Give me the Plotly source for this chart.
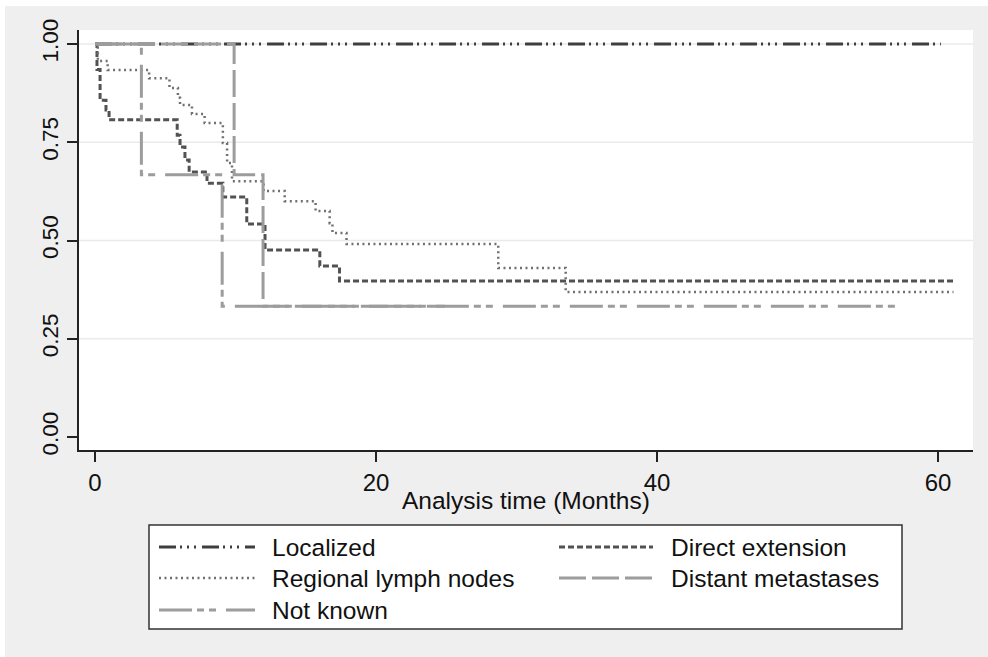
import plotly.graph_objects as go

# ---- data ----
localized_t = [0, 60.2]
localized_s = [1.0, 1.0]

direct_t = [0, 0.14, 0.36, 0.78, 1.0, 5.85, 6.05, 6.4, 6.7, 7.97, 9.1, 10.8, 12.1, 16.0, 17.4, 61.1]
direct_s = [1.0, 0.935, 0.857, 0.832, 0.807, 0.768, 0.738, 0.705, 0.674, 0.646, 0.611, 0.542, 0.476, 0.435, 0.397, 0.397]

regional_t = [0, 0.2, 0.9, 3.85, 5.3, 5.9, 6.05, 6.9, 7.8, 9.1, 9.4, 9.75, 12.0, 13.5, 15.7, 16.7, 16.9, 17.9, 28.7, 33.5, 61.1]
regional_s = [1.0, 0.957, 0.934, 0.913, 0.888, 0.863, 0.845, 0.822, 0.799, 0.748, 0.697, 0.651, 0.626, 0.600, 0.575, 0.544, 0.519, 0.491, 0.430, 0.369, 0.369]

distant_t = [0, 9.9, 11.96, 24.9]
distant_s = [1.0, 0.667, 0.333, 0.333]

notknown_t = [0, 3.3, 9.05, 57.6]
notknown_s = [1.0, 0.667, 0.333, 0.333]

series_names = ["Localized", "Direct extension", "Regional lymph nodes", "Distant metastases", "Not known"]
x_ticks = [0, 20, 40, 60]
y_ticks = [0.0, 0.25, 0.5, 0.75, 1.0]
y_tick_text = ["0.00", "0.25", "0.50", "0.75", "1.00"]
grid_vals = [0.25, 0.5, 0.75, 1.0]
x_title = "Analysis time (Months)"

# ---- styles ----
styles = [
    dict(color="#3e3e3e", width=3, dash="17px,4px,2px,5px,2px,5px,2px,6px"),
    dict(color="#525252", width=3, dash="6px,3px"),
    dict(color="#707070", width=2.5, dash="2px,3.5px"),
    dict(color="#9c9c9c", width=3, dash="27px,6px"),
    dict(color="#9c9c9c", width=3, dash="33px,5px,7px,5px,7px,10px"),
]

W, H = 988, 657
L, R, T, B = 79, 15, 30, 207
PW, PH = W - L - R, H - T - B

def px_x(p):
    return (p - L) / PW

def px_y(p):
    return (H - B - p) / PH

FONT = "Liberation Sans, Arial, Helvetica, sans-serif"

fig = go.Figure()
data = [(localized_t, localized_s), (direct_t, direct_s), (regional_t, regional_s),
        (distant_t, distant_s), (notknown_t, notknown_s)]
for (t, s), name, st in zip(data, series_names, styles):
    fig.add_trace(go.Scatter(x=t, y=s, mode="lines", name=name, line_shape="hv",
                             line=st, showlegend=False, hoverinfo="skip"))

shapes = []
# gridlines
for g in grid_vals:
    shapes.append(dict(type="line", xref="paper", yref="y", x0=0, x1=1, y0=g, y1=g,
                       line=dict(color="#eaeaea", width=1.5), layer="below"))
# white border strips of the outer frame
shapes.append(dict(type="rect", xref="paper", yref="paper", x0=px_x(0), x1=px_x(W + 5),
                   y0=px_y(6), y1=px_y(-5), fillcolor="white", line=dict(width=0), layer="below"))
shapes.append(dict(type="rect", xref="paper", yref="paper", x0=px_x(-5), x1=px_x(5),
                   y0=px_y(H + 5), y1=px_y(-5), fillcolor="white", line=dict(width=0), layer="below"))
# legend box
shapes.append(dict(type="rect", xref="paper", yref="paper", x0=px_x(149), x1=px_x(902),
                   y0=px_y(629), y1=px_y(525), fillcolor="white",
                   line=dict(color="#333333", width=1.5), layer="above"))

annotations = []
legend_pos = [(159, 255, 270, 547), (559, 653, 669, 547), (159, 255, 270, 578),
              (559, 653, 669, 578), (159, 255, 270, 610)]
for (sx0, sx1, tx, ty), name, st in zip(legend_pos, series_names, styles):
    shapes.append(dict(type="line", xref="paper", yref="paper", x0=px_x(sx0), x1=px_x(sx1),
                       y0=px_y(ty), y1=px_y(ty), line=st, layer="above"))
    annotations.append(dict(xref="paper", yref="paper", x=px_x(tx), y=px_y(ty), text=name,
                            showarrow=False, xanchor="left", yanchor="middle",
                            font=dict(family=FONT, size=24.5, color="#111111")))

# x-axis title
annotations.append(dict(xref="paper", yref="paper", x=0.5, y=px_y(500), text=x_title,
                        showarrow=False, xanchor="center", yanchor="middle",
                        font=dict(family=FONT, size=24.5, color="#111111")))

fig.update_layout(
    width=W, height=H, autosize=False,
    margin=dict(l=L, r=R, t=T, b=B),
    paper_bgcolor="#efefef", plot_bgcolor="white",
    showlegend=False,
    shapes=shapes, annotations=annotations,
    font=dict(family=FONT, color="#111111"),
)
fig.update_xaxes(
    range=[-1.14, 62.49], tickvals=x_ticks, ticktext=[str(v) for v in x_ticks],
    showgrid=False, zeroline=False, showline=True, linecolor="#222222", linewidth=1.5,
    ticks="outside", ticklen=10, tickwidth=1.5, tickcolor="#222222",
    tickfont=dict(size=24, family=FONT, color="#111111"),
)
fig.update_yaxes(
    range=[-0.033, 1.0356], tickvals=y_ticks, ticktext=y_tick_text, tickangle=-90,
    showgrid=False, zeroline=False, showline=True, linecolor="#222222", linewidth=1.5,
    ticks="outside", ticklen=10, tickwidth=1.5, tickcolor="#222222",
    tickfont=dict(size=22.5, family=FONT, color="#111111"),
)

fig.write_html("out.html")
